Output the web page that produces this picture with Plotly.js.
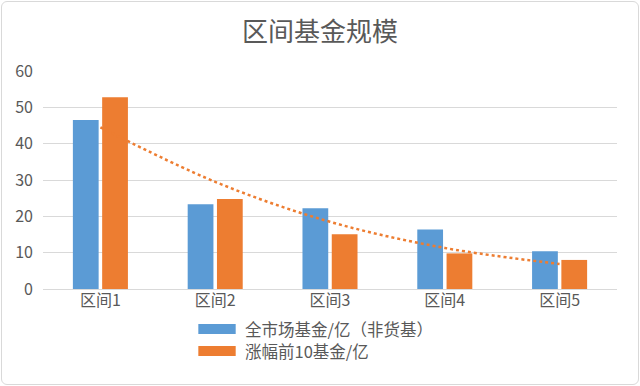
<!DOCTYPE html>
<html><head><meta charset="utf-8">
<script src="https://cdn.plot.ly/plotly-3.0.1.min.js"></script>
<style>
body{margin:0;background:#fff;}
#wrap{position:relative;width:640px;height:386px;}
#chart{width:640px;height:386px;}
#border{position:absolute;left:1px;top:1px;width:636px;height:382px;border:1px solid #d9d9d9;border-radius:6px;pointer-events:none;}
</style></head>
<body>
<div id="wrap"><div id="chart"></div><div id="border"></div></div>
<script>
const categories = ["区间1","区间2","区间3","区间4","区间5"];
const seriesAll = [46.5, 23.3, 22.2, 16.4, 10.4];
const seriesTop10 = [52.8, 24.8, 15.1, 9.8, 8.0];
const trendTop10 = [44.5, 29.5, 18.5, 11.3, 6.9];
const nameAll = "全市场基金/亿（非货基）";
const nameTop10 = "涨幅前10基金/亿";
const yTicks = [0,10,20,30,40,50,60];
const colorAll = '#5b9bd5';
const colorTop10 = '#ed7d31';

const fontFam = '"Noto Sans CJK SC", "Noto Sans", sans-serif';
const traces = [
  {type:'bar', x:categories, y:seriesAll, name:nameAll, marker:{color:colorAll}},
  {type:'bar', x:categories, y:seriesTop10, name:nameTop10, marker:{color:colorTop10}},
  {type:'scatter', mode:'lines', x:categories, y:trendTop10, showlegend:false,
   line:{color:colorTop10, width:2.5, dash:'dot', shape:'spline', smoothing:1}, hoverinfo:'skip'}
];
const legendItems = [
  {name:nameAll, color:colorAll, y0:-0.2064, y1:-0.1606, ty:-0.1835},
  {name:nameTop10, color:colorTop10, y0:-0.3073, y1:-0.2615, ty:-0.2844}
];
const shapes = legendItems.map(it => ({type:'rect', xref:'paper', yref:'paper',
  x0:0.2706, x1:0.3357, y0:it.y0, y1:it.y1, fillcolor:it.color, line:{width:0}}));
const annotations = legendItems.map(it => ({xref:'paper', yref:'paper', x:0.3479, y:it.ty,
  xanchor:'left', yanchor:'middle', text:it.name, showarrow:false,
  font:{family:fontFam, size:16.5, color:'#595959'}}));

const layout = {
  width:640, height:386,
  margin:{l:43, r:23, t:71, b:97},
  paper_bgcolor:'#fff', plot_bgcolor:'#fff',
  font:{family:fontFam, color:'#595959', size:16},
  title:{text:'区间基金规模', x:0.5, xanchor:'center', y:0.917, yanchor:'middle',
         font:{family:fontFam, size:26, color:'#595959'}},
  barmode:'group', bargap:0.49, bargroupgap:0.12,
  xaxis:{type:'category', showgrid:false, showline:false, ticks:'', tickfont:{size:16, color:'#595959'}},
  yaxis:{range:[0,60], tickvals:yTicks, showgrid:true, gridcolor:'#d9d9d9', gridwidth:1,
         zeroline:true, zerolinecolor:'#d9d9d9', zerolinewidth:1, showline:false,
         ticks:'', ticklabelstandoff:9, tickfont:{size:16, color:'#595959'}},
  showlegend:false,
  shapes:shapes,
  annotations:annotations
};
Plotly.newPlot('chart', traces, layout, {displayModeBar:false, staticPlot:true});
</script>
</body></html>
